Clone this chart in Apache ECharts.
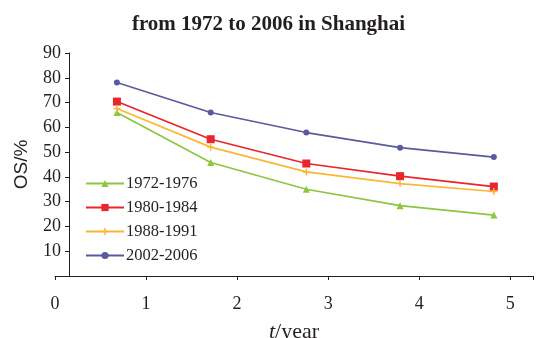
<!DOCTYPE html>
<html>
<head>
<meta charset="utf-8">
<script src="https://cdn.jsdelivr.net/npm/echarts@6/dist/echarts.min.js"></script>
<style>html,body{margin:0;padding:0;background:#fff}#c{width:537px;height:338px}</style>
</head>
<body>
<div id="c"></div>
<script>
const titleText = 'from 1972 to 2006 in Shanghai';
const xValues = [0.68, 1.71, 2.76, 3.79, 4.82];
const seriesNames = ['1972-1976', '1980-1984', '1988-1991', '2002-2006'];
const s1972 = [66.0, 45.8, 35.0, 28.4, 24.6];
const s1980 = [70.4, 55.2, 45.4, 40.3, 36.1];
const s1988 = [67.6, 52.0, 42.0, 37.3, 34.1];
const s2002 = [78.1, 66.0, 57.9, 51.8, 48.0];
const yTicks = [10, 20, 30, 40, 50, 60, 70, 80, 90];

const colors = ['#8DC63F', '#E8262B', '#FBB635', '#5B5A9E'];
const plusPath = 'path://M4,0H6V4H10V6H6V10H4V6H0V4H4Z';
const symbols = ['triangle', 'rect', plusPath, 'circle'];
const sizes = [7, 8, 7, 6];
const allData = [s1972, s1980, s1988, s2002];
const serif = '"Liberation Serif","DejaVu Serif",serif';

const chart = echarts.init(document.getElementById('c'));
chart.setOption({
  animation: false,
  backgroundColor: '#fff',
  title: {
    text: titleText, left: 'center', top: 9,
    textStyle: {fontFamily: serif, fontWeight: 'bold', fontSize: 21, color: '#231f20'}
  },
  legend: {
    orient: 'vertical', left: 80, top: 170, itemGap: 7,
    itemWidth: 38, itemHeight: 9,
    textStyle: {fontFamily: serif, fontSize: 16.5, color: '#231f20', padding: [0, 0, 0, -3]},
    data: seriesNames
  },
  grid: {left: 55, right: 4, top: 53, bottom: 62, containLabel: false, outerBoundsMode: 'none'},
  xAxis: {
    type: 'value', min: 0, max: 5.25, interval: 1,
    name: '{i|t}/year', nameLocation: 'middle', nameGap: 45,
    nameTextStyle: {fontFamily: serif, fontSize: 22, color: '#231f20',
      rich: {i: {fontFamily: serif, fontStyle: 'italic', fontSize: 22, color: '#231f20'}}},
    axisLine: {lineStyle: {color: '#231f20', width: 1}},
    axisTick: {length: 4, lineStyle: {color: '#231f20'}},
    axisLabel: {fontFamily: serif, fontSize: 18, color: '#231f20', margin: 19,
      formatter: v => Number.isInteger(v) ? String(v) : ''},
    splitLine: {show: false}
  },
  yAxis: {
    type: 'value', min: 0, max: 90, interval: 10, offset: -14,
    name: 'OS/%', nameLocation: 'middle', nameGap: 38, nameRotate: 90,
    nameTextStyle: {fontFamily: '"Liberation Sans",Arial,sans-serif', fontSize: 19, color: '#231f20'},
    axisLine: {show: true, lineStyle: {color: '#231f20', width: 1}},
    axisTick: {show: true, length: 4, lineStyle: {color: '#231f20'}},
    axisLabel: {fontFamily: serif, fontSize: 18, color: '#231f20', margin: 8,
      formatter: v => yTicks.includes(v) ? String(v) : ''},
    splitLine: {show: false}
  },
  series: seriesNames.map((n, i) => ({
    name: n, type: 'line',
    data: xValues.map((x, j) => [x, allData[i][j]]),
    symbol: symbols[i], symbolSize: sizes[i], showSymbol: true,
    itemStyle: {color: colors[i]},
    lineStyle: {color: colors[i], width: 1.7}
  }))
});
</script>
</body>
</html>
